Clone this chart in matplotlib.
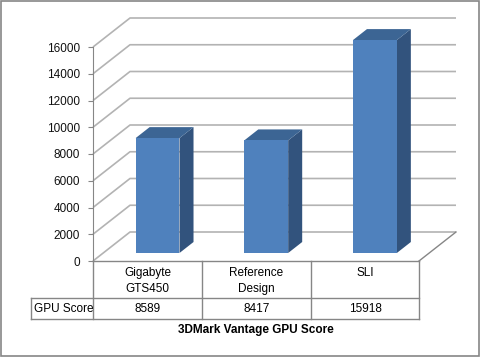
import matplotlib.pyplot as plt
from matplotlib.patches import Rectangle, Polygon

plt.rcParams['font.family'] = ['Liberation Sans', 'DejaVu Sans']

# data
categories = ['Gigabyte\nGTS450', 'Reference\nDesign', 'SLI']
scores = [8589, 8417, 15918]
row_label = 'GPU Score'
title = '3DMark Vantage GPU Score'
yticks = [0, 2000, 4000, 6000, 8000, 10000, 12000, 14000, 16000]

W, H = 480, 357
fig = plt.figure(figsize=(W / 100, H / 100), dpi=100)

# front plane of the 3d box, in pixels
x_left, x_right = 93, 419
y_top, y_bot = 47, 261
ax = fig.add_axes([x_left / W, 1 - y_bot / H, (x_right - x_left) / W, (y_bot - y_top) / H])
ax.set_xlim(-0.5, 2.5)
ax.set_ylim(0, 16000)

# depth offsets (full depth) in data units
px_x = 3 / (x_right - x_left)
px_y = 16000 / (y_bot - y_top)
DX = 37 * px_x
DY = 29 * px_y

grid_c = '#b3b3b3'
axis_c = '#868686'

# back wall + side wall gridlines
for v in yticks:
    ax.plot([-0.5, -0.5 + DX, 2.5 + DX], [v, v + DY, v + DY], color=grid_c, lw=1.2,
            clip_on=False, zorder=1, solid_capstyle='butt')
# right floor edge
ax.plot([2.5, 2.5 + DX], [0, DY], color=axis_c, lw=1, clip_on=False, zorder=1)

# bars
w = 0.404
d0, d1 = 0.276, 0.655
front_c = '#4f81bd'
top_c = '#3c6594'
side_c = '#32537d'
for i, v in enumerate(scores):
    x0 = i - w / 2 + d0 * DX
    y0 = d0 * DY
    ddx = (d1 - d0) * DX
    ddy = (d1 - d0) * DY
    ax.add_patch(Polygon([(x0 + w, y0), (x0 + w, y0 + v), (x0 + w + ddx, y0 + v + ddy),
                          (x0 + w + ddx, y0 + ddy)], closed=True, fc=side_c, ec='none',
                         clip_on=False, zorder=3))
    ax.add_patch(Polygon([(x0, y0 + v), (x0 + w, y0 + v), (x0 + w + ddx, y0 + v + ddy),
                          (x0 + ddx, y0 + v + ddy)], closed=True, fc=top_c, ec='none',
                         clip_on=False, zorder=3))
    ax.add_patch(Rectangle((x0, y0), w, v, fc=front_c, ec='none', clip_on=False, zorder=4))

# axes styling
for s in ['top', 'right', 'bottom']:
    ax.spines[s].set_visible(False)
ax.spines['left'].set_color(axis_c)
ax.set_xticks([])
ax.set_yticks(yticks)
ax.set_yticklabels([str(t) for t in yticks])
ax.tick_params(axis='y', length=3.6, color=axis_c, pad=5.8, labelsize=8.5, labelcolor='#111111')
ax.patch.set_visible(False)

# data table, drawn in figure pixels
def fx(px):
    return px / W


def fy(py):
    return 1 - py / H


row1, row2, row3 = 261, 298, 319
col_edges = [93, 202, 311, 419]
lab_left = 31
tl = dict(color=axis_c, lw=1)
fig.add_artist(plt.Line2D([fx(93), fx(419)], [fy(row1), fy(row1)], **tl))
fig.add_artist(plt.Line2D([fx(lab_left), fx(419)], [fy(row2), fy(row2)], **tl))
fig.add_artist(plt.Line2D([fx(lab_left), fx(419)], [fy(row3), fy(row3)], **tl))
fig.add_artist(plt.Line2D([fx(lab_left), fx(lab_left)], [fy(row2), fy(row3)], **tl))
for xe in col_edges:
    fig.add_artist(plt.Line2D([fx(xe), fx(xe)], [fy(row1), fy(row3)], **tl))

for i, cat in enumerate(categories):
    cx = (col_edges[i] + col_edges[i + 1]) / 2
    fig.text(fx(cx), fy(267), cat, ha='center', va='top', fontsize=8.5, linespacing=1.45)
    fig.text(fx(cx), fy(308.5), str(scores[i]), ha='center', va='center', fontsize=8.5)
fig.text(fx(lab_left + 3), fy(308.5), row_label, ha='left', va='center', fontsize=8.5)
fig.text(fx(256), fy(330), title, ha='center', va='center', fontsize=8.5, fontweight='bold')

# outer chart border
fig.add_artist(Rectangle((fx(0.5), fy(355.5)), fx(478.5), (355 / H), transform=fig.transFigure,
                         fill=False, ec='#868686', lw=1.2))

fig.savefig('out.png', dpi=100)
